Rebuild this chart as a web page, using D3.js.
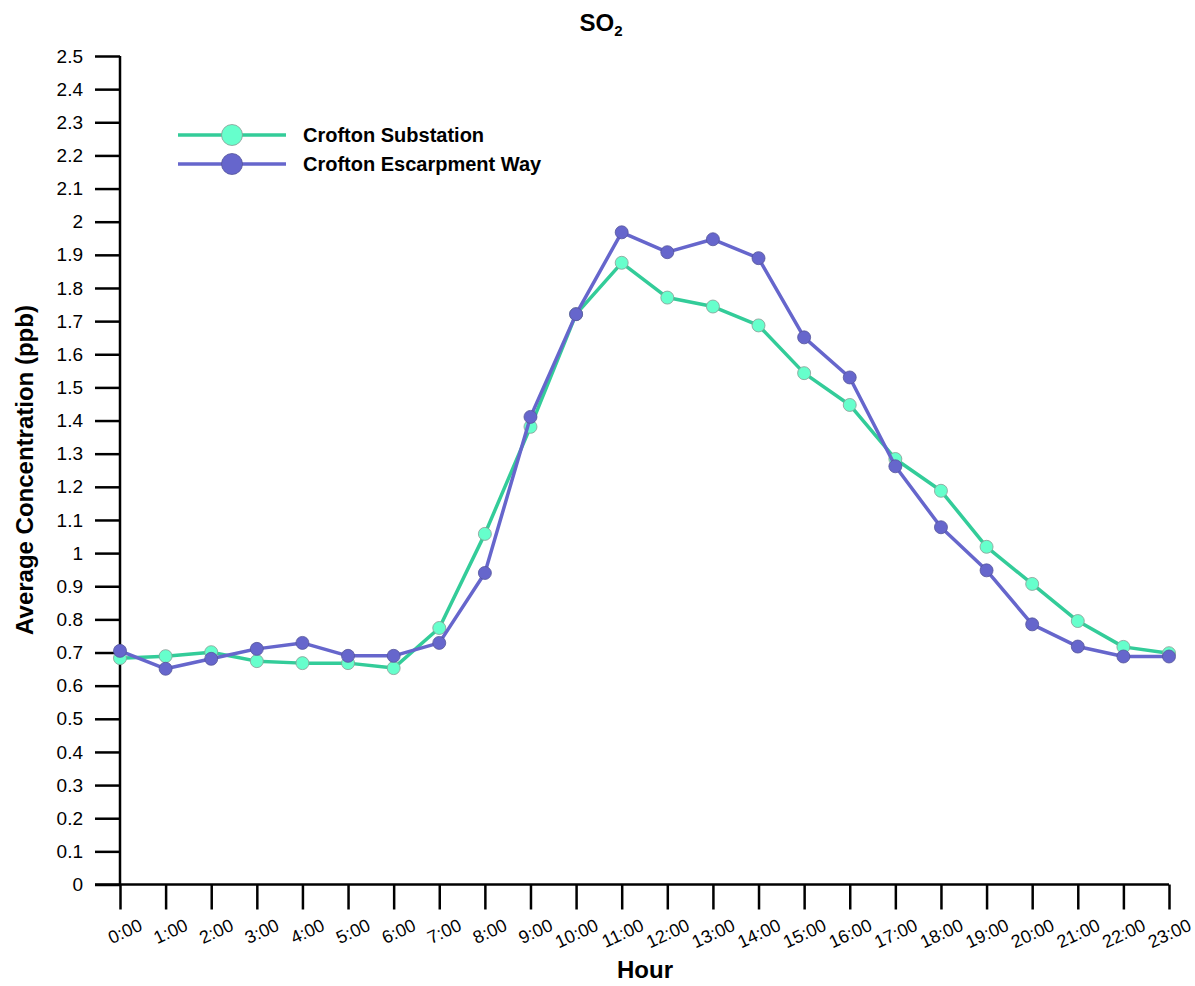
<!DOCTYPE html>
<html><head><meta charset="utf-8">
<script src="https://cdn.jsdelivr.net/npm/d3@7"></script>
<style>body{margin:0;background:#fff;} text{font-family:"Liberation Sans",Arial,sans-serif;}</style>
</head><body><svg id="c" width="1195" height="986"></svg>
<script>
const hours = ["0:00","1:00","2:00","3:00","4:00","5:00","6:00","7:00","8:00","9:00","10:00","11:00","12:00","13:00","14:00","15:00","16:00","17:00","18:00","19:00","20:00","21:00","22:00","23:00"];
const substation = [0.683,0.689,0.701,0.674,0.668,0.668,0.653,0.774,1.058,1.381,1.721,1.876,1.771,1.744,1.687,1.543,1.447,1.284,1.188,1.019,0.907,0.795,0.717,0.698];
const escarpment = [0.705,0.651,0.681,0.711,0.729,0.690,0.690,0.729,0.940,1.411,1.721,1.968,1.908,1.947,1.890,1.651,1.530,1.262,1.078,0.948,0.785,0.718,0.688,0.688];
const yTicks = [0,0.1,0.2,0.3,0.4,0.5,0.6,0.7,0.8,0.9,1,1.1,1.2,1.3,1.4,1.5,1.6,1.7,1.8,1.9,2,2.1,2.2,2.3,2.4,2.5];
const seriesNames = ["Crofton Substation","Crofton Escarpment Way"];

const svg = d3.select("#c");
const x = d3.scalePoint().domain(hours).range([120,1169]);
const y = d3.scaleLinear().domain([0,2.5]).range([884.5,56]);

const series = [
  {name: seriesNames[0], values: substation, line:"#33cc99", fill:"#66ffcc", stroke:"#8a9a94"},
  {name: seriesNames[1], values: escarpment, line:"#6666cc", fill:"#6666cc", stroke:"#55559a"}
];

// y axis
const yAx = svg.append("g").attr("transform","translate(120,0)")
  .call(d3.axisLeft(y).tickValues(yTicks).tickSize(25).tickPadding(12).tickFormat(d=>d3.format("")(+d.toFixed(1))));
yAx.attr("font-size",null);
yAx.selectAll("text").attr("font-size",19).attr("fill","#000");
yAx.selectAll("line").attr("stroke","#000").attr("stroke-width",2.5);
yAx.select(".domain").attr("stroke","#000").attr("stroke-width",2.5).attr("d","M0,884.5V56");

// x axis
const xAx = svg.append("g").attr("transform","translate(0,884.5)")
  .call(d3.axisBottom(x).tickSize(25).tickSizeOuter(0));
xAx.attr("font-size",null);
xAx.select(".domain").attr("stroke","#000").attr("stroke-width",2.5).attr("d","M95,0H1169");
xAx.selectAll("line").attr("stroke","#000").attr("stroke-width",2.5);
xAx.selectAll("text").attr("font-size",18).attr("fill","#000")
  .attr("text-anchor","end").attr("dy",null).attr("y",null)
  .attr("transform","translate(23,45) rotate(-25)");

// lines
const line = d3.line().x((d,i)=>x(hours[i])).y(d=>y(d));
series.forEach(s=>{
  svg.append("path").datum(s.values).attr("d",line).attr("fill","none")
    .attr("stroke",s.line).attr("stroke-width",3.5).attr("stroke-linejoin","round");
  svg.append("g").selectAll("circle").data(s.values).join("circle")
    .attr("cx",(d,i)=>x(hours[i])).attr("cy",d=>y(d)).attr("r",6.5)
    .attr("fill",s.fill).attr("stroke",s.stroke).attr("stroke-width",0.8);
});

// legend
const lg = svg.append("g");
series.forEach((s,i)=>{
  const ly = 135 + i*29;
  lg.append("line").attr("x1",178).attr("x2",286).attr("y1",ly).attr("y2",ly)
    .attr("stroke",s.line).attr("stroke-width",3.5);
  lg.append("circle").attr("cx",232).attr("cy",ly).attr("r",10.5)
    .attr("fill",s.fill).attr("stroke",s.stroke).attr("stroke-width",0.8);
  lg.append("text").attr("x",303).attr("y",ly).attr("dy","0.35em")
    .attr("font-size",20).attr("font-weight","bold").text(s.name);
});

// titles
const t = svg.append("text").attr("x",601).attr("y",31).attr("text-anchor","middle")
  .attr("font-size",24).attr("font-weight","bold");
t.append("tspan").text("SO");
t.append("tspan").attr("font-size",15).attr("dy",5).text("2");

svg.append("text").attr("x",645).attr("y",978).attr("text-anchor","middle")
  .attr("font-size",24).attr("font-weight","bold").text("Hour");
svg.append("text").attr("transform","translate(33,470) rotate(-90)").attr("text-anchor","middle")
  .attr("font-size",24).attr("font-weight","bold").text("Average Concentration (ppb)");
</script></body></html>
